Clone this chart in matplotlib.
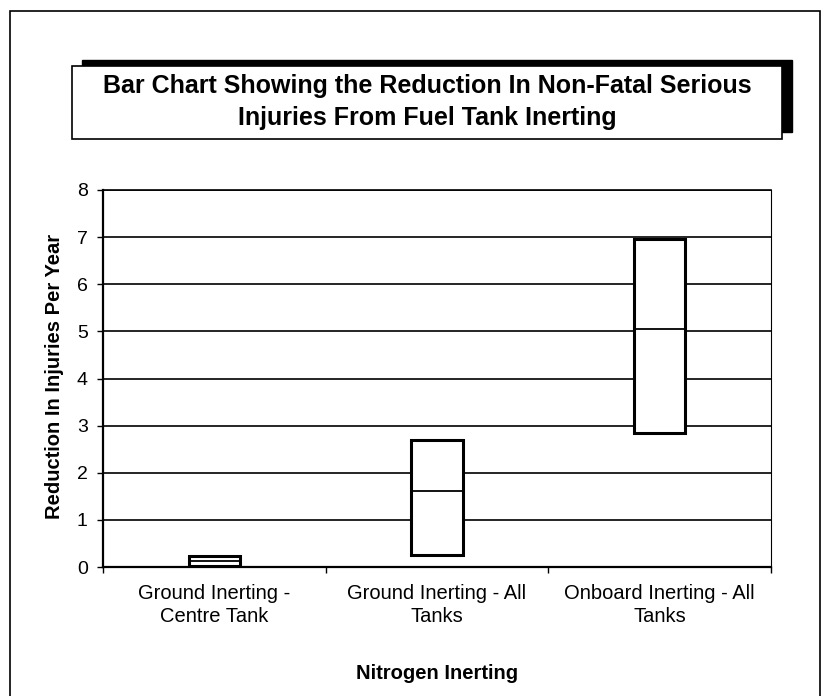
import matplotlib
matplotlib.use("Agg")
import matplotlib.pyplot as plt
from matplotlib.patches import Rectangle
import numpy as np

plt.rcParams['font.family'] = ['Liberation Sans', 'DejaVu Sans']

categories = ["Ground Inerting -\nCentre Tank", "Ground Inerting - All\nTanks", "Onboard Inerting - All\nTanks"]
low_vals = [0.03, 0.25, 2.85]
mid_vals = [0.12, 1.61, 5.04]
high_vals = [0.24, 2.69, 6.97]
y_ticks = [0, 1, 2, 3, 4, 5, 6, 7, 8]
title_lines = ["Bar Chart Showing the Reduction In Non-Fatal Serious", "Injuries From Fuel Tank Inerting"]
x_title = "Nitrogen Inerting"
y_title = "Reduction In Injuries Per Year"

W, H = 822, 696
fig = plt.figure(figsize=(W / 100, H / 100), dpi=100)
fig.patch.set_facecolor('white')


def fx(px):
    return px / W


def fy(py):
    return 1 - py / H


# outer frame
fig.patches.append(Rectangle((fx(10), fy(700)), fx(810), (700 - 11) / H, transform=fig.transFigure,
                             fill=False, edgecolor='black', linewidth=1.2, zorder=0))

# title box with shadow
fig.patches.append(Rectangle((fx(82), fy(132)), fx(710), 72 / H, transform=fig.transFigure,
                             facecolor='black', edgecolor='black', linewidth=1, zorder=1))
fig.patches.append(Rectangle((fx(72), fy(139)), fx(710), 73 / H, transform=fig.transFigure,
                             facecolor='white', edgecolor='black', linewidth=1.2, zorder=2))
fig.text(fx(427), fy(93), title_lines[0], ha='center', va='baseline', fontsize=18, fontweight='bold', zorder=3)
fig.text(fx(427), fy(125), title_lines[1], ha='center', va='baseline', fontsize=18, fontweight='bold', zorder=3)

ax = fig.add_axes([fx(103), fy(567), fx(668), 377 / H])
x = np.arange(len(categories))
lo = np.array(low_vals)
hi = np.array(high_vals)
width = 0.23
ax.bar(x, hi - lo, bottom=lo, width=width, facecolor='white', edgecolor='black', linewidth=2.2, zorder=3)
ax.hlines(mid_vals, x - width / 2, x + width / 2, colors='black', linewidth=1.3, zorder=4)

ax.set_xlim(-0.5, len(categories) - 0.5)
ax.set_ylim(0, 8)
ax.set_yticks(y_ticks)
ax.yaxis.grid(True, color='black', linewidth=1.2)
ax.set_axisbelow(True)
ax.set_xticks(x)
ax.set_xticklabels(categories, fontsize=14.5, linespacing=1.3)
ax.set_xticks(np.arange(len(categories) + 1) - 0.5, minor=True)
ax.tick_params(axis='x', which='major', length=0, pad=12)
ax.tick_params(axis='x', which='minor', length=4.5, width=1, direction='out')
ax.tick_params(axis='y', length=4.5, width=1, labelsize=14, pad=6.5)
for s in ['left', 'bottom']:
    ax.spines[s].set_linewidth(1.6)
ax.spines['right'].set_linewidth(0.8)
ax.spines['top'].set_linewidth(1.2)

fig.text(fx(437), fy(679), x_title, ha='center', va='baseline', fontsize=14.5, fontweight='bold')
fig.text(fx(54), fy(376), y_title, ha='center', va='center', rotation=90, fontsize=14.5, fontweight='bold')

fig.savefig("out.png", dpi=100)
